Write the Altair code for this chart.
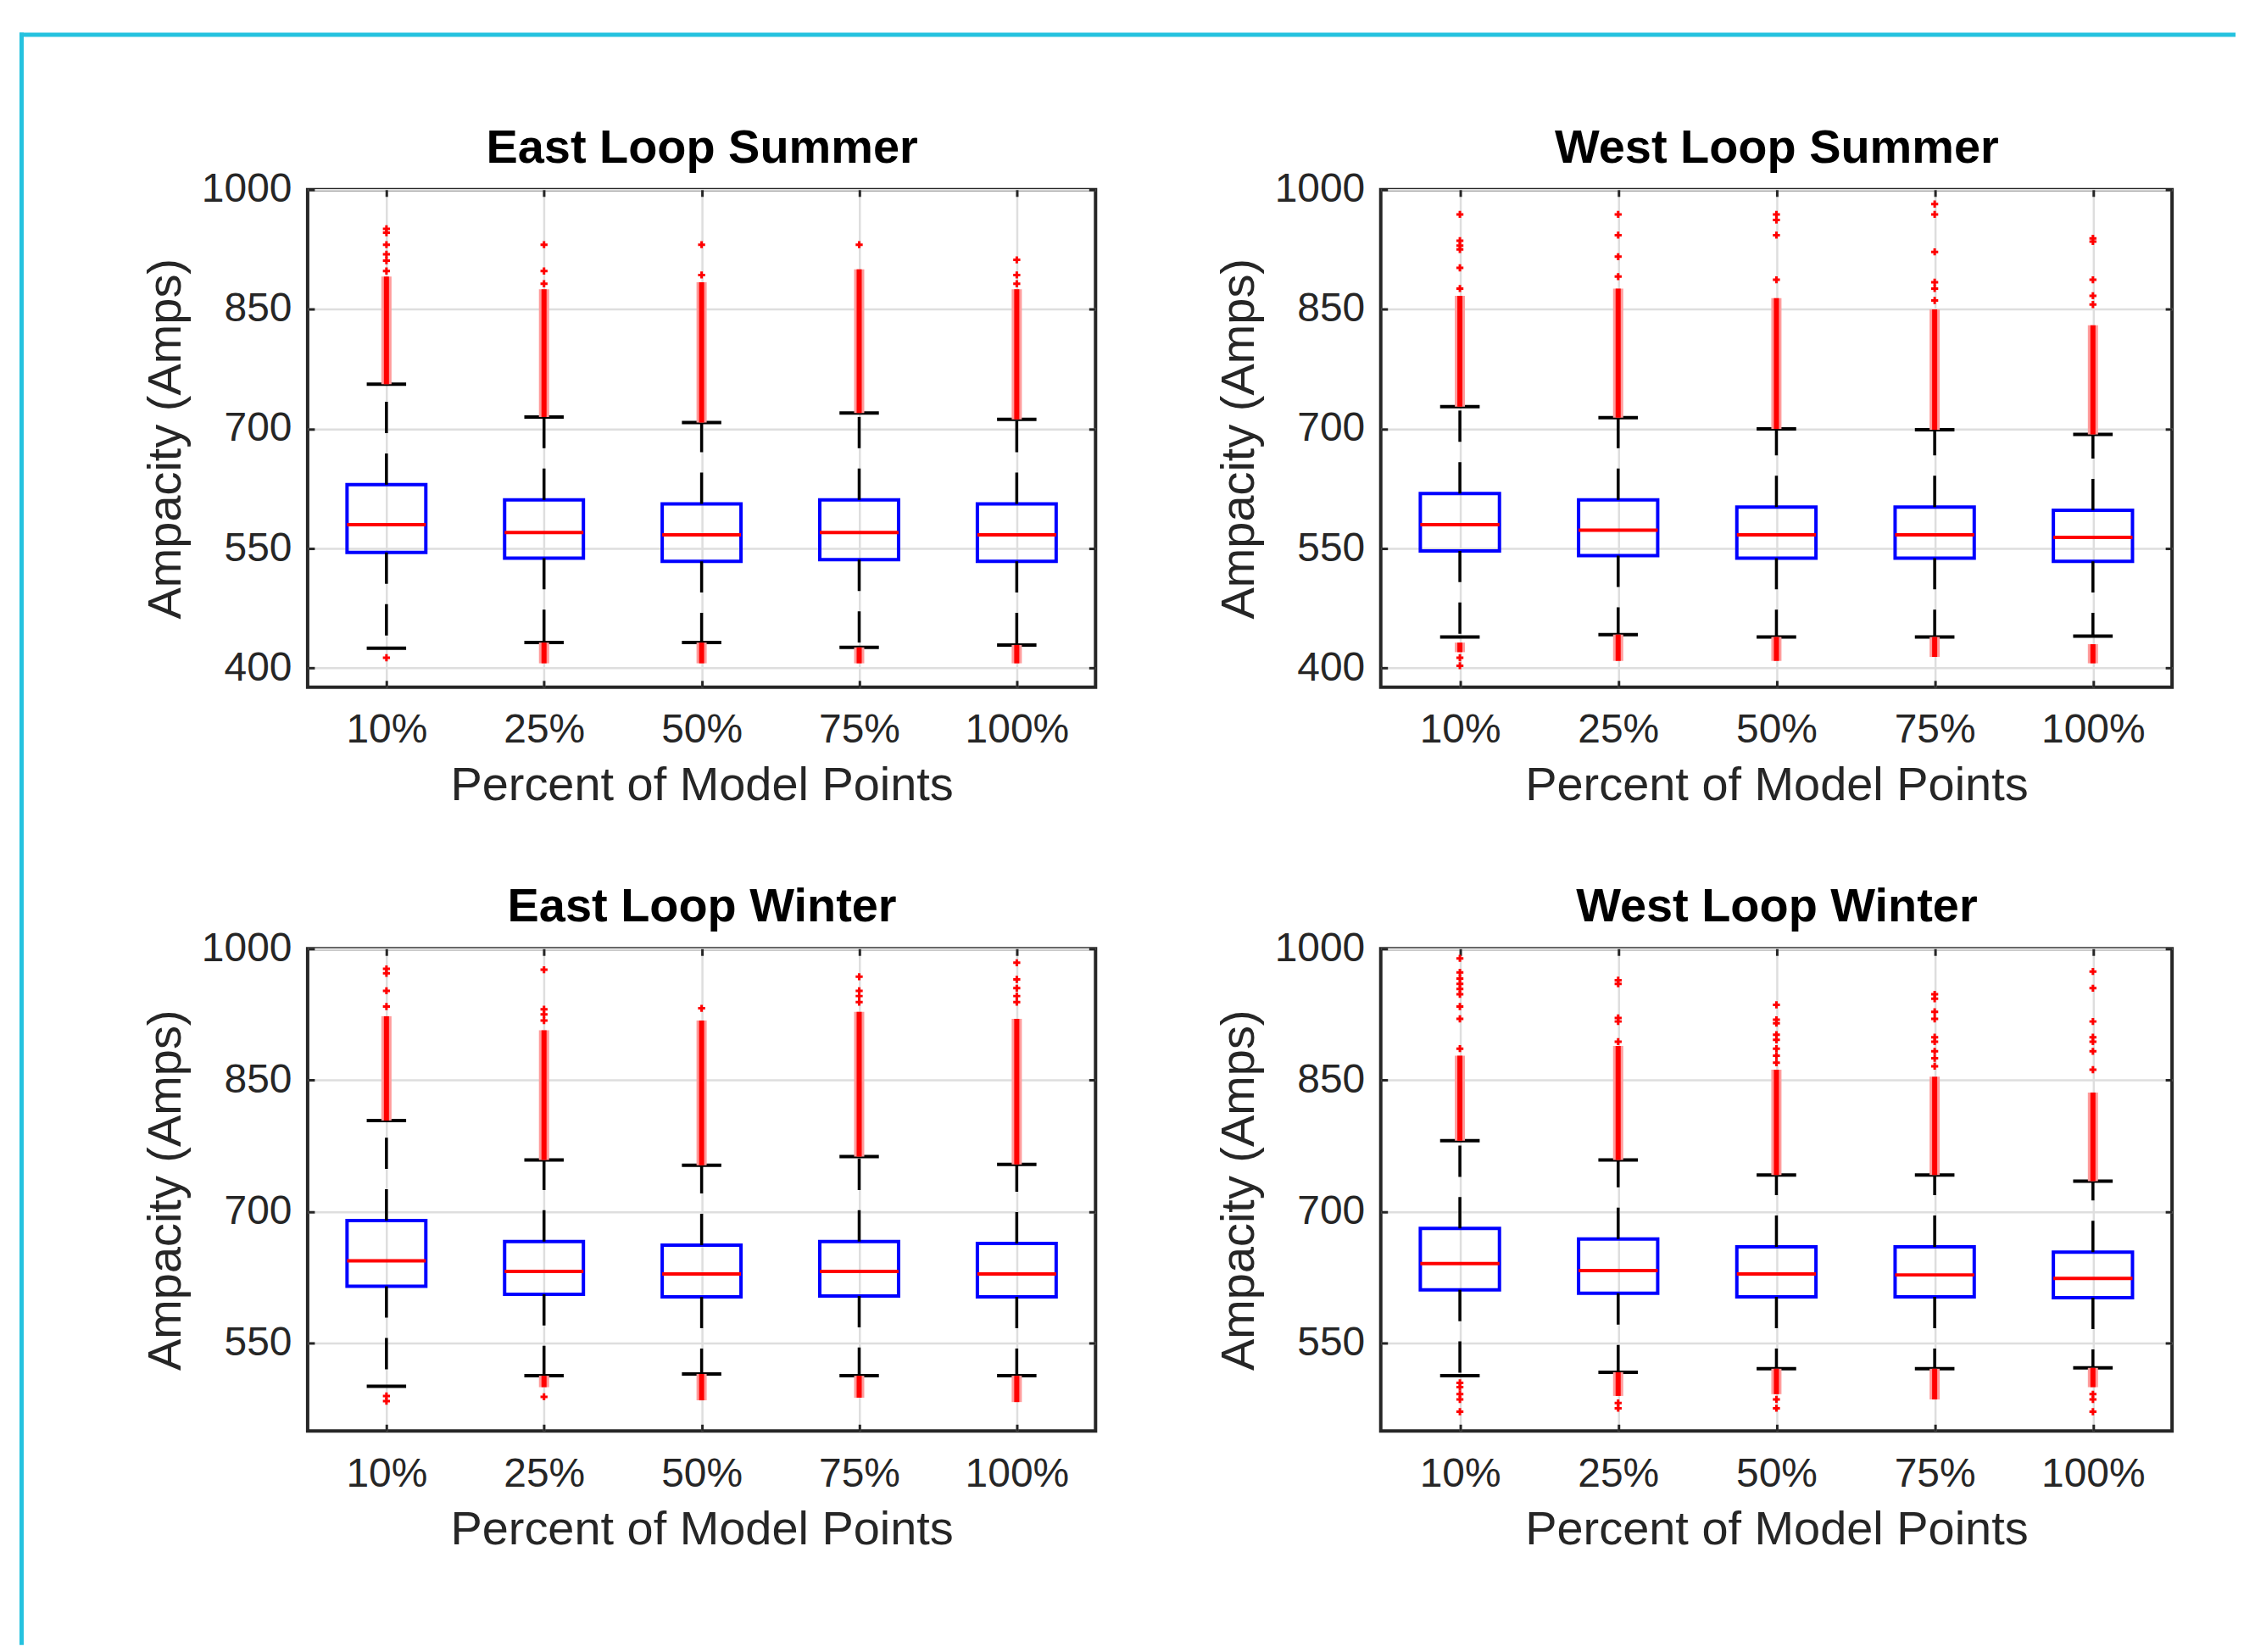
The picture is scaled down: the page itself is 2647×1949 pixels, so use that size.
import json
import altair as alt
import pandas as pd

FONT = "Liberation Sans"

categories = ["10%", "25%", "50%", "75%", "100%"]
positions = [1, 2, 3, 4, 5]

# ---- East Loop Summer ----
es_lower = [425, 432, 432, 426, 429]
es_q1 = [545, 538, 534, 536, 534]
es_median = [580, 570, 567, 570, 567]
es_q3 = [630, 611, 606, 611, 606]
es_upper = [756, 715, 708, 720, 712]
es_dense = [[(756, 891)], [(715, 875), (406, 432)], [(708, 884), (406, 432)],
            [(720, 900), (406, 426)], [(712, 875), (406, 429)]]
es_sparse = [[951, 946, 931, 919, 911, 898, 413], [931, 898, 882], [931, 893],
             [931], [912, 893, 882]]

# ---- West Loop Summer ----
ws_lower = [439, 442, 439, 439, 440]
ws_q1 = [547, 541, 538, 538, 534]
ws_median = [580, 573, 567, 567, 564]
ws_q3 = [619, 611, 602, 602, 598]
ws_upper = [728, 714, 700, 699, 693]
ws_dense = [[(728, 867), (420, 432)], [(714, 876), (409, 442)], [(700, 864), (409, 439)],
            [(699, 850), (414, 439)], [(693, 830), (406, 430)]]
ws_sparse = [[969, 936, 930, 925, 902, 876, 413, 403], [969, 943, 916, 891],
             [969, 962, 943, 887], [982, 969, 922, 884, 876, 861],
             [939, 935, 887, 867, 856]]

# ---- East Loop Winter ----
ew_lower = [501, 513, 515, 513, 513]
ew_q1 = [615, 606, 603, 604, 603]
ew_median = [644, 632, 629, 632, 629]
ew_q3 = [690, 666, 662, 666, 664]
ew_upper = [804, 759, 753, 763, 754]
ew_dense = [[(804, 923)], [(759, 907), (500, 513)], [(753, 918), (485, 515)],
            [(763, 928), (488, 513)], [(754, 920), (483, 513)]]
ew_sparse = [[977, 972, 952, 934, 490, 484], [976, 931, 925, 918, 489], [932],
             [968, 952, 946, 939], [984, 965, 955, 946, 939]]

# ---- West Loop Winter ----
ww_lower = [513, 517, 521, 521, 522]
ww_q1 = [611, 607, 603, 603, 602]
ww_median = [641, 633, 629, 628, 624]
ww_q3 = [681, 669, 660, 660, 654]
ww_upper = [781, 759, 742, 742, 735]
ww_dense = [[(781, 878)], [(759, 889), (490, 517)], [(742, 862), (492, 521)],
            [(742, 854), (486, 521)], [(735, 836), (500, 522)]]
ww_sparse = [[989, 973, 966, 960, 954, 948, 934, 920, 886, 505, 500, 492, 486, 472],
             [964, 960, 921, 917, 894, 482, 476],
             [936, 919, 915, 902, 896, 886, 878, 870, 486, 476],
             [948, 943, 928, 920, 899, 894, 883, 875, 866],
             [974, 955, 917, 899, 894, 883, 862, 492, 486, 472]]

summer_ticks = [400, 550, 700, 850, 1000]
winter_ticks = [550, 700, 850, 1000]
summer_domain = [376, 1000]
winter_domain = [450, 1000]

CYAN = "#25c2df"
INK = "#262626"
one = pd.DataFrame({"k": [0]})


def deco_rect(x1, x2, y1, y2, color=CYAN):
    return alt.Chart(one).mark_rect(color=color).encode(
        x=alt.value(x1), x2=alt.value(x2), y=alt.value(y1), y2=alt.value(y2))


def make_panel(title, lower, q1, median, q3, upper, dense, sparse,
               width, height, y_domain, y_ticks, extras):
    box = pd.DataFrame({"pos": positions, "category": categories, "lower": lower,
                        "q1": q1, "median": median, "q3": q3, "upper": upper})
    box["left"] = box["pos"] - 0.25
    box["right"] = box["pos"] + 0.25
    box["capl"] = box["pos"] - 0.125
    box["capr"] = box["pos"] + 0.125
    dense_df = pd.DataFrame([{"pos": p, "lo": lo, "hi": hi}
                             for p, rr in zip(positions, dense) for (lo, hi) in rr])
    sparse_df = pd.DataFrame([{"pos": p, "value": v}
                              for p, vv in zip(positions, sparse) for v in vv])

    xs = alt.Scale(domain=[0.5, 5.5], nice=False, zero=False)
    ys = alt.Scale(domain=y_domain, nice=False, zero=False)
    label_expr = "%s[datum.value - 1]" % json.dumps(categories)

    x_main = alt.Axis(orient="bottom", values=positions, labelExpr=label_expr,
                      grid=True, domain=False, ticks=True, tickSize=8, offset=-8,
                      labelPadding=27, titlePadding=14, minExtent=0)
    y_main = alt.Axis(orient="left", values=y_ticks, format="d", grid=True,
                      domain=False, ticks=True, tickSize=8, offset=-8,
                      labelPadding=19, titlePadding=13, minExtent=0)
    # top axis: inward ticks, and it carries the panel title
    x_top = alt.Axis(orient="top", values=positions, labels=False, grid=False,
                     domain=False, ticks=True, tickSize=8, offset=-8, minExtent=0,
                     titleFontWeight="bold", titleFontSize=56, titleColor="black",
                     titlePadding=31, titleBaseline="alphabetic")
    y_right = alt.Axis(orient="right", values=y_ticks, labels=False, grid=False,
                       domain=False, ticks=True, tickSize=8, offset=-8, minExtent=0)

    base = alt.Chart(box)
    boxes = base.mark_rect(filled=False, stroke="#0000ff", strokeWidth=4).encode(
        x=alt.X("left:Q", scale=xs, axis=x_main, title="Percent of Model Points"),
        x2="right:Q",
        y=alt.Y("q1:Q", scale=ys, axis=y_main, title="Ampacity (Amps)"),
        y2="q3:Q")
    medians = base.mark_rule(color="#ff0000", strokeWidth=4).encode(
        x=alt.X("left:Q", scale=xs, axis=x_top, title=title), x2="right:Q",
        y=alt.Y("median:Q", scale=ys, axis=y_right, title=None))
    whisk_hi = base.mark_rule(color="black", strokeWidth=3.5, strokeDash=[37, 24]).encode(
        x=alt.X("pos:Q", scale=xs, axis=None),
        y=alt.Y("q3:Q", scale=ys, axis=None), y2="upper:Q")
    whisk_lo = base.mark_rule(color="black", strokeWidth=3.5, strokeDash=[37, 24]).encode(
        x=alt.X("pos:Q", scale=xs, axis=None),
        y=alt.Y("q1:Q", scale=ys, axis=None), y2="lower:Q")
    cap_hi = base.mark_rule(color="black", strokeWidth=4).encode(
        x=alt.X("capl:Q", scale=xs, axis=None), x2="capr:Q",
        y=alt.Y("upper:Q", scale=ys, axis=None))
    cap_lo = base.mark_rule(color="black", strokeWidth=4).encode(
        x=alt.X("capl:Q", scale=xs, axis=None), x2="capr:Q",
        y=alt.Y("lower:Q", scale=ys, axis=None))
    dense_halo = alt.Chart(dense_df).mark_rule(color="#ff9c9c", strokeWidth=12).encode(
        x=alt.X("pos:Q", scale=xs, axis=None),
        y=alt.Y("lo:Q", scale=ys, axis=None), y2="hi:Q")
    dense_core = alt.Chart(dense_df).mark_rule(color="#ff0000", strokeWidth=6).encode(
        x=alt.X("pos:Q", scale=xs, axis=None),
        y=alt.Y("lo:Q", scale=ys, axis=None), y2="hi:Q")
    points = alt.Chart(sparse_df).mark_point(
        shape="M-1,0L1,0M0,-1L0,1", size=70, filled=False, color="#ff0000",
        strokeWidth=3, opacity=1).encode(
        x=alt.X("pos:Q", scale=xs, axis=None),
        y=alt.Y("value:Q", scale=ys, axis=None))

    layers = list(extras) + [boxes, medians, whisk_hi, whisk_lo, cap_hi, cap_lo,
                             dense_halo, dense_core, points]
    return alt.layer(*layers).resolve_axis(x="independent", y="independent").properties(
        width=width, height=height)


# page geometry (plots): ES 361,220 931x588 | WS 1629,220 935x588
#                        EW 361,1117 931x570 | WW 1629,1117 935x570
# flush layout: every panel is placed from its plot area alone.
H_SPACING = 1629 - 361 - 931
V_SPACING = 1117 - 220

# cyan page frame (left and top edges), drawn once inside the first panel
es_extras = [deco_rect(-340.5, -335.5, -185.5, 1720),
             deco_rect(-340.5, 2278, -185.5, -180.5)]

es = make_panel("East Loop Summer", es_lower, es_q1, es_median, es_q3, es_upper,
                es_dense, es_sparse, 931, 588, summer_domain, summer_ticks, es_extras)
ws = make_panel("West Loop Summer", ws_lower, ws_q1, ws_median, ws_q3, ws_upper,
                ws_dense, ws_sparse, 935, 588, summer_domain, summer_ticks, [])
ew = make_panel("East Loop Winter", ew_lower, ew_q1, ew_median, ew_q3, ew_upper,
                ew_dense, ew_sparse, 931, 570, winter_domain, winter_ticks, [])
ww = make_panel("West Loop Winter", ww_lower, ww_q1, ww_median, ww_q3, ww_upper,
                ww_dense, ww_sparse, 935, 570, winter_domain, winter_ticks, [])

row1 = alt.hconcat(es, ws, spacing=H_SPACING, bounds="flush")
row2 = alt.hconcat(ew, ww, spacing=H_SPACING, bounds="flush")

chart = alt.vconcat(row1, row2, spacing=V_SPACING, bounds="flush").properties(
    padding={"left": 12.5, "top": 26.5, "right": 0, "bottom": 0},
    background="white",
).configure_view(
    stroke=INK, strokeWidth=4
).configure_axis(
    labelFont=FONT, titleFont=FONT, labelFontSize=48, titleFontSize=56,
    labelColor=INK, titleColor=INK, titleFontWeight="normal",
    gridColor="#dedede", gridWidth=2.5, tickColor=INK, tickWidth=3,
)

chart.save("out.html", embed_options={"renderer": "svg", "actions": False})
